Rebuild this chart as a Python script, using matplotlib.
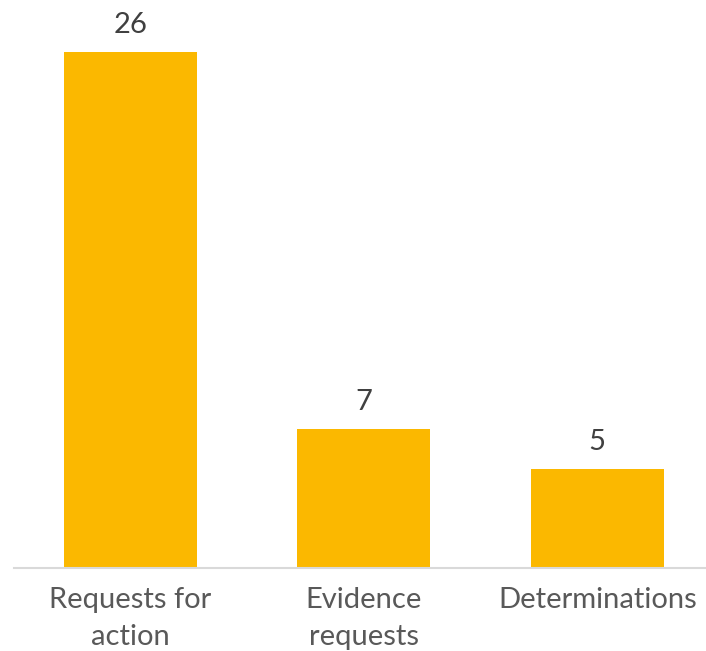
import matplotlib.pyplot as plt
import numpy as np

categories = ['Requests for\naction', 'Evidence\nrequests', 'Determinations']
counts = [26, 7, 5]

plt.rcParams['font.family'] = ['Lato', 'DejaVu Sans']

fig = plt.figure(figsize=(7.06, 6.51), dpi=100)
W, H = 706, 651
# axes area in pixels: left 13.75, right 714, baseline y=568, top y=12
ax = fig.add_axes([13.75 / W, (H - 568) / H, (714 - 13.75) / W, (568 - 12) / H])

x = np.arange(len(categories))
bars = ax.bar(x, counts, width=0.57, color='#FBB800', zorder=2)

for b, v in zip(bars, counts):
    ax.annotate(str(v), (b.get_x() + b.get_width() / 2, v),
                xytext=(0, 10), textcoords='offset points',
                ha='center', va='bottom', fontsize=21, color='#404040')

ax.set_xlim(-0.5, len(categories) - 0.5)
ax.set_ylim(0, 28)
ax.set_xticks(x)
ax.set_xticklabels(categories, fontsize=21, color='#595959', linespacing=1.48)
ax.tick_params(axis='x', length=0, pad=14)
ax.set_yticks([])
for s in ['top', 'left', 'right']:
    ax.spines[s].set_visible(False)
ax.spines['bottom'].set_color('#D9D9D9')
ax.spines['bottom'].set_linewidth(1.5)

fig.savefig('out.png', dpi=100)
